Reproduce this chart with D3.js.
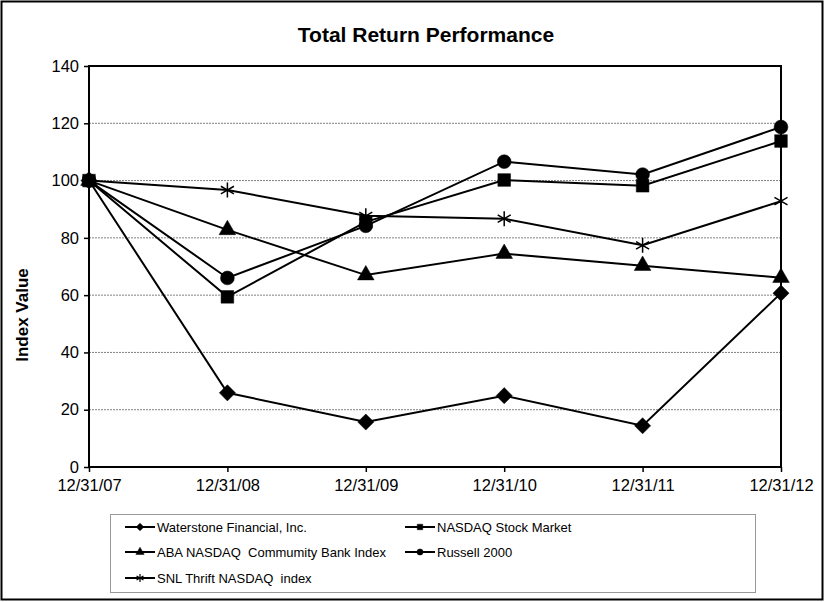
<!DOCTYPE html>
<html><head><meta charset="utf-8">
<script src="https://cdn.jsdelivr.net/npm/d3@7"></script>
<style>body{margin:0;background:#fff}svg{display:block}text{white-space:pre}</style>
</head><body>
<svg id="c" width="827" height="602"></svg>
<script>
const dates = ["12/31/07","12/31/08","12/31/09","12/31/10","12/31/11","12/31/12"];
const waterstone = [100, 25.9, 15.7, 24.9, 14.4, 60.7];
const nasdaq     = [100, 59.4, 85.6, 100.2, 98.2, 113.8];
const russell    = [100, 66.0, 84.2, 106.6, 102.1, 118.7];
const aba        = [100, 82.8, 67.0, 74.5, 70.3, 66.1];
const snl        = [100, 96.7, 87.7, 86.7, 77.4, 92.8];
const yTicks = [0,20,40,60,80,100,120,140];
const seriesNames = ["Waterstone Financial, Inc.","NASDAQ Stock Market","ABA NASDAQ  Commumity Bank Index","Russell 2000","SNL Thrift NASDAQ  index"];
const seriesSymbols = ["diamond","square","triangle","circle","star"];
const seriesValues = [waterstone, nasdaq, aba, russell, snl];

const svg = d3.select("#c");
const font = "'Liberation Sans', Arial, sans-serif";
svg.append("rect").attr("x",1.5).attr("y",1.5).attr("width",821).attr("height",598).attr("fill","#fff").attr("stroke","#000").attr("stroke-width",2);

const x = d3.scalePoint().domain(dates).range([89,781]);
const y = d3.scaleLinear().domain([0,140]).range([467,66]);

svg.append("g").selectAll("line").data(yTicks.filter(t=>t>0 && t<140)).join("line")
  .attr("x1",89).attr("x2",781).attr("y1",d=>y(d)).attr("y2",d=>y(d))
  .attr("stroke","#808080").attr("stroke-width",1).attr("stroke-dasharray","2,1");

svg.append("rect").attr("x",89).attr("y",66).attr("width",692).attr("height",401)
  .attr("fill","none").attr("stroke","#000").attr("stroke-width",2);

const ya = svg.append("g").attr("transform","translate(89,0)")
  .call(d3.axisLeft(y).tickValues(yTicks).tickSize(5).tickPadding(5));
ya.select(".domain").remove();
ya.selectAll("line").attr("stroke","#000").attr("stroke-width",1.5);
ya.selectAll("text").attr("font-family",font).attr("font-size",16.5).attr("fill","#000");

const xa = svg.append("g").attr("transform","translate(0,467)")
  .call(d3.axisBottom(x).tickSize(5).tickPadding(7));
xa.select(".domain").remove();
xa.selectAll("line").attr("stroke","#000").attr("stroke-width",1.5);
xa.selectAll("text").attr("font-family",font).attr("font-size",16.5).attr("fill","#000");

svg.append("text").attr("x",426).attr("y",42).attr("text-anchor","middle")
  .attr("font-family",font).attr("font-weight","bold").attr("font-size",21).text("Total Return Performance");
svg.append("text").attr("transform","translate(28,315) rotate(-90)").attr("text-anchor","middle")
  .attr("font-family",font).attr("font-weight","bold").attr("font-size",17).text("Index Value");

const diamondType = {draw(ctx, size){ const r=Math.sqrt(size/2); ctx.moveTo(0,-r); ctx.lineTo(r,0); ctx.lineTo(0,r); ctx.lineTo(-r,0); ctx.closePath(); }};
function symbolPath(name, size){
  const map = {diamond:diamondType, square:d3.symbolSquare, triangle:d3.symbolTriangle, circle:d3.symbolCircle, star:d3.symbolAsterisk};
  return d3.symbol().type(map[name]).size(size)();
}
const sizes = {diamond:130, square:160, triangle:120, circle:150, star:160};
const line = d3.line().x((d,i)=>x(dates[i])).y(d=>y(d));

const order = [4,2,0,3,1];
order.forEach(k=>{
  const vals = seriesValues[k], sym = seriesSymbols[k];
  const g = svg.append("g");
  g.append("path").attr("d",line(vals)).attr("fill","none").attr("stroke","#000").attr("stroke-width",2);
  g.selectAll("path.m").data(vals).join("path").attr("class","m")
    .attr("transform",(d,i)=>`translate(${x(dates[i])},${y(d)})`)
    .attr("d",symbolPath(sym,sizes[sym]))
    .attr("fill",sym==="star"?"none":"#000").attr("stroke","#000").attr("stroke-width",sym==="star"?1.5:0.5);
});

svg.append("rect").attr("x",110.5).attr("y",514.5).attr("width",645).attr("height",78)
  .attr("fill","#fff").attr("stroke","#999").attr("stroke-width",1);
const legPos = [[125,527],[405,527],[125,552],[405,552],[125,578]];
seriesNames.forEach((n,k)=>{
  const [lx,ly] = legPos[k];
  const g = svg.append("g").attr("transform",`translate(${lx},${ly})`);
  g.append("line").attr("x1",0).attr("x2",30).attr("stroke","#000").attr("stroke-width",2);
  const sym = seriesSymbols[k];
  g.append("path").attr("transform","translate(15,0)").attr("d",symbolPath(sym, sym==="star"?45:30))
    .attr("fill",sym==="star"?"none":"#000").attr("stroke","#000").attr("stroke-width",sym==="star"?1.2:0.5);
  g.append("text").attr("x",32).attr("y",5).attr("font-family",font).attr("font-size",13).text(n);
});
</script>
</body></html>
